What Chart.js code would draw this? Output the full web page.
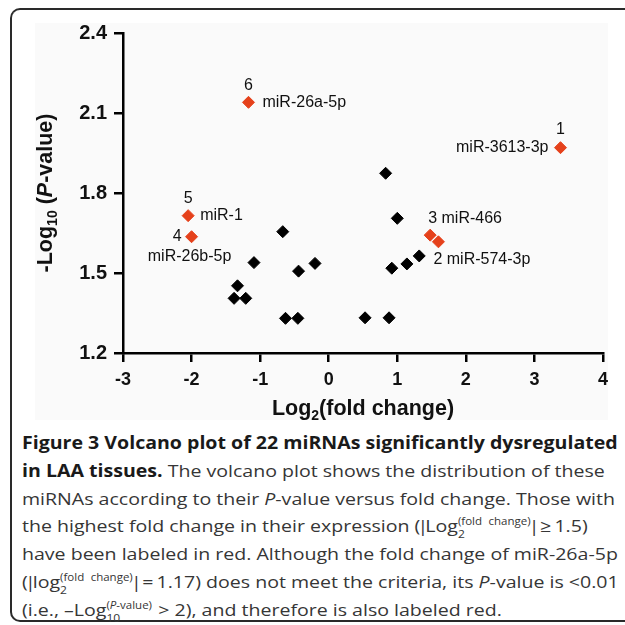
<!DOCTYPE html>
<html>
<head>
<meta charset="utf-8">
<script src="https://cdn.jsdelivr.net/npm/chart.js@4.4.1/dist/chart.umd.min.js"></script>
<style>
  html, body { margin: 0; padding: 0; background: #fff; }
  #page { position: relative; width: 625px; height: 625px; overflow: hidden; }
  #frame { position: absolute; left: 10px; top: 8px; width: 700px; height: 614px;
           border-left: 2px solid #2a2a2a; border-top: 2px solid #2a2a2a; border-bottom: 2px solid #2a2a2a;
           border-radius: 10px 0 0 10px; box-sizing: border-box; }
  #shade { position: absolute; left: 35px; top: 23px; width: 573px; height: 397px; background: #fafafa; }
  #myChart { position: absolute; left: 0; top: 0; }
  #cap { position: absolute; left: 22px; top: 429px; font-family: "Open Sans", sans-serif;
         font-size: 17px; color: #363636; transform: scaleX(1.15); transform-origin: 0 0; }
  .ln { white-space: nowrap; height: 27.8px; line-height: 27.8px; }
  .ln b { color: #1a1a1a; }
  .bar { margin: 0 -2.5px; }
  .ss { position: relative; display: inline-block; font-size: 10px; line-height: 1; margin-right: 1px; }
  .ss .up { position: relative; top: -7px; word-spacing: 3px; }
  .ss .dn { position: absolute; left: 0; top: 6px; font-size: 10.5px; }
</style>
</head>
<body>
<div id="page">
  <div id="shade"></div>
  <div id="frame"></div>
  <canvas id="myChart" width="625" height="420"></canvas>
  <div id="cap">
    <div class="ln"><b>Figure 3 Volcano plot of 22 miRNAs significantly dysregulated</b></div>
    <div class="ln"><b>in LAA tissues.</b> The volcano plot shows the distribution of these</div>
    <div class="ln">miRNAs according to their <i>P</i>-value versus fold change. Those with</div>
    <div class="ln">the highest fold change in their expression (<span class="bar">|</span>Log<span class="ss"><span class="up">(fold change)</span><span class="dn">2</span></span><span class="bar">|</span>&thinsp;≥&thinsp;1.5)</div>
    <div class="ln">have been labeled in red. Although the fold change of miR-26a-5p</div>
    <div class="ln">(<span class="bar">|</span>log<span class="ss"><span class="up">(fold change)</span><span class="dn">2</span></span><span class="bar">|</span>&thinsp;=&thinsp;1.17) does not meet the criteria, its <i>P</i>-value is &lt;0.01</div>
    <div class="ln">(i.e., –Log<span class="ss"><span class="up">(<i>P</i>-value)</span><span class="dn">10</span></span> &gt; 2), and therefore is also labeled red.</div>
  </div>
</div>
<script>
// values
var xTicks = [-3, -2, -1, 0, 1, 2, 3, 4];
var yTicks = [1.2, 1.5, 1.8, 2.1, 2.4];

// labeled (red) miRNAs
var redRank = ['1', '2', '3', '4', '5', '6'];
var redNames = ['miR-3613-3p', 'miR-574-3p', 'miR-466', 'miR-26b-5p', 'miR-1', 'miR-26a-5p'];
var redX = [3.38, 1.60, 1.48, -2.00, -2.05, -1.17];
var redY = [1.970, 1.617, 1.642, 1.636, 1.715, 2.140];

// other miRNAs (black)
var blackX = [-1.38, -1.21, -1.33, -1.09, -0.67, -0.63, -0.45, -0.44, -0.20, 0.53, 0.83, 0.88, 0.92, 1.00, 1.14, 1.32];
var blackY = [1.405, 1.405, 1.452, 1.539, 1.655, 1.330, 1.330, 1.507, 1.536, 1.332, 1.874, 1.332, 1.518, 1.705, 1.534, 1.564];

var RED = '#e5411b';
var FONT = '"Liberation Sans", Arial, sans-serif';

// where each label piece sits relative to its point (pixels)
var labelPlace = [
    [{k: 'rank', dx: 0, dy: -18, align: 'center'}, {k: 'name', dx: -12, dy: 0, align: 'right'}],
    [{k: 'both', dx: -5, dy: 18, align: 'left'}],
    [{k: 'both', dx: -2, dy: -17, align: 'left'}],
    [{k: 'rank', dx: -10, dy: 0, align: 'right'}, {k: 'name', dx: -2, dy: 20, align: 'center'}],
    [{k: 'rank', dx: 0, dy: -17, align: 'center'}, {k: 'name', dx: 12, dy: 0, align: 'left'}],
    [{k: 'rank', dx: 0, dy: -17, align: 'center'}, {k: 'name', dx: 14, dy: 0, align: 'left'}]
];

function toPoints(xs, ys) {
    var out = [];
    for (var i = 0; i < xs.length; i++) out.push({x: xs[i], y: ys[i]});
    return out;
}

function drawRuns(ctx, runs) {
    var total = 0;
    for (var i = 0; i < runs.length; i++) {
        ctx.font = runs[i].font;
        runs[i].w = ctx.measureText(runs[i].t).width;
        total += runs[i].w;
    }
    var x = -total / 2;
    for (var j = 0; j < runs.length; j++) {
        ctx.font = runs[j].font;
        ctx.fillText(runs[j].t, x, runs[j].dy || 0);
        x += runs[j].w;
    }
}

var labelsPlugin = {
    id: 'pointLabels',
    afterDatasetsDraw: function(chart) {
        var ctx = chart.ctx;
        var xs = chart.scales.x, ys = chart.scales.y;
        ctx.save();
        ctx.fillStyle = '#111';
        ctx.font = '16px ' + FONT;
        ctx.textBaseline = 'middle';
        for (var i = 0; i < redX.length; i++) {
            var px = xs.getPixelForValue(redX[i]);
            var py = ys.getPixelForValue(redY[i]);
            labelPlace[i].forEach(function(p) {
                var s = p.k === 'rank' ? redRank[i] : (p.k === 'name' ? redNames[i] : redRank[i] + ' ' + redNames[i]);
                ctx.textAlign = p.align;
                ctx.fillText(s, px + p.dx, py + p.dy);
            });
        }
        ctx.restore();
    }
};

var titlesPlugin = {
    id: 'axisTitles',
    afterDraw: function(chart) {
        var ctx = chart.ctx;
        var a = chart.chartArea;
        var big = 'bold 21.5px ' + FONT;
        var small = 'bold 14px ' + FONT;
        ctx.save();
        ctx.fillStyle = '#111';
        ctx.textAlign = 'left';
        ctx.textBaseline = 'alphabetic';
        // x title
        ctx.save();
        ctx.translate((a.left + a.right) / 2, 415);
        drawRuns(ctx, [
            {t: 'Log', font: big},
            {t: '2', font: small, dy: 5},
            {t: '(fold change)', font: big}
        ]);
        ctx.restore();
        // y title
        ctx.save();
        ctx.translate(52, (a.top + a.bottom) / 2);
        ctx.rotate(-Math.PI / 2);
        drawRuns(ctx, [
            {t: '-Log', font: big},
            {t: '10', font: small, dy: 5},
            {t: ' (', font: big},
            {t: 'P', font: 'italic ' + big},
            {t: '-value)', font: big}
        ]);
        ctx.restore();
        ctx.restore();
    }
};

function main() {
    var ctx = document.getElementById('myChart');
    new Chart(ctx, {
        type: 'scatter',
        data: {
            datasets: [{
                label: 'other',
                data: toPoints(blackX, blackY),
                pointStyle: 'rectRot',
                pointRadius: 6,
                borderWidth: 1,
                backgroundColor: '#000',
                borderColor: '#000'
            }, {
                label: 'labeled',
                data: toPoints(redX, redY),
                pointStyle: 'rectRot',
                pointRadius: 6,
                borderWidth: 1,
                backgroundColor: RED,
                borderColor: RED
            }]
        },
        options: {
            responsive: false,
            animation: false,
            events: [],
            layout: { padding: { top: 33, right: 22, left: 0, bottom: 0 } },
            plugins: { legend: { display: false }, tooltip: { enabled: false } },
            scales: {
                x: {
                    type: 'linear',
                    min: xTicks[0],
                    max: xTicks[xTicks.length - 1],
                    afterBuildTicks: function(s) { s.ticks = xTicks.map(function(v) { return {value: v}; }); },
                    afterFit: function(s) { s.height = 67; },
                    ticks: {
                        padding: 7,
                        color: '#111',
                        font: { family: FONT, size: 18, weight: 'bold' },
                        callback: function(v) { return String(v); }
                    },
                    grid: { drawOnChartArea: false, drawTicks: true, tickLength: 9, color: '#000', lineWidth: 2.5 },
                    border: { display: true, color: '#000', width: 2.5 }
                },
                y: {
                    type: 'linear',
                    min: yTicks[0],
                    max: yTicks[yTicks.length - 1],
                    afterBuildTicks: function(s) { s.ticks = yTicks.map(function(v) { return {value: v}; }); },
                    afterFit: function(s) { s.width = 123; },
                    ticks: {
                        padding: 7,
                        color: '#111',
                        font: { family: FONT, size: 20, weight: 'bold' },
                        callback: function(v) { return v.toFixed(1); }
                    },
                    grid: { drawOnChartArea: false, drawTicks: true, tickLength: 9, color: '#000', lineWidth: 2.5 },
                    border: { display: true, color: '#000', width: 2.5 }
                }
            }
        },
        plugins: [labelsPlugin, titlesPlugin]
    });
}

main();
</script>
</body>
</html>
